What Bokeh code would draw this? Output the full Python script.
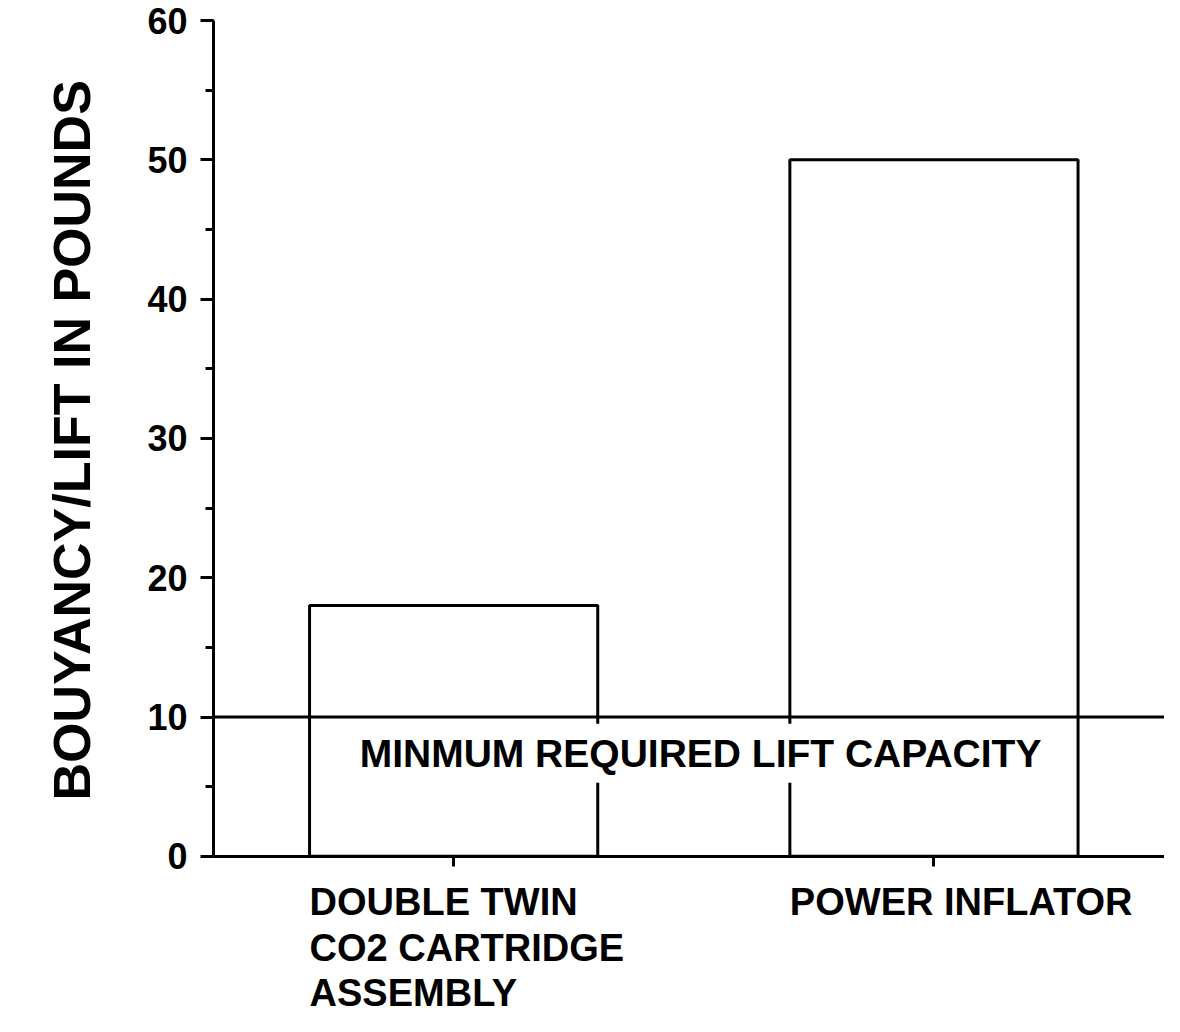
from bokeh.plotting import figure
from bokeh.models import (Range1d, FixedTicker, SingleIntervalTicker, Span, Label, Title)
from bokeh.embed import file_html
from bokeh.resources import INLINE

# ---- data ----
categories = ["DOUBLE TWIN\nCO2 CARTRIDGE\nASSEMBLY", "POWER INFLATOR"]
positions = [0.5, 1.5]
lift_values = [18, 50]
min_required = 10
min_label = "MINMUM REQUIRED LIFT CAPACITY"
y_label = "BOUYANCY/LIFT IN POUNDS"
y_bounds = (0, 60)

BAR_W = 0.6
FONT = "Liberation Sans"

p = figure(width=1164, height=1016, output_backend="svg", toolbar_location=None,
           x_range=Range1d(0, 1.98), y_range=Range1d(-11.5, 60),
           min_border_left=213, min_border_top=20, min_border_right=0,
           min_border_bottom=0, x_axis_location="above")
p.outline_line_color = None
p.xgrid.visible = False
p.ygrid.visible = False
p.background_fill_color = "white"
p.border_fill_color = "white"

p.vbar(x=positions, top=lift_values, width=BAR_W, bottom=0,
       fill_color="white", line_color="black", line_width=3)

p.add_layout(Span(location=min_required, dimension="width",
                  line_color="black", line_width=3))
p.add_layout(Label(x=1.014, y=7.4, text=min_label, text_align="center",
                   text_baseline="middle", text_font=FONT, text_font_style="bold",
                   text_font_size="39px", text_color="black",
                   background_fill_color="white", padding=8))

# y axis (line and ticks limited to 0..60)
ya = p.yaxis[0]
ya.bounds = y_bounds
ya.ticker = SingleIntervalTicker(interval=10, num_minor_ticks=2)
ya.axis_line_width = 3
ya.major_tick_line_width = 3
ya.minor_tick_line_width = 3
ya.major_tick_out = 13
ya.major_tick_in = 0
ya.minor_tick_out = 8
ya.minor_tick_in = 0
ya.major_label_text_font = FONT
ya.major_label_text_font_style = "bold"
ya.major_label_text_font_size = "36px"
ya.major_label_text_color = "black"
ya.major_label_standoff = 13

# y axis title, placed along the 0..60 part of the axis
p.add_layout(Title(text=y_label, align="left", offset=216, standoff=84,
                   vertical_align="top",
                   text_font=FONT, text_font_style="bold", text_font_size="52px",
                   text_color="black"), "left")

# x axis drawn at y = 0 with ticks at the bar centres pointing down
xa = p.xaxis[0]
xa.fixed_location = 0
xa.ticker = FixedTicker(ticks=positions)
xa.minor_tick_line_color = None
xa.axis_line_width = 3
xa.major_tick_line_width = 3
xa.major_tick_out = 0
xa.major_tick_in = 10
xa.major_label_overrides = {pos: "" for pos in positions}
xa.major_label_standoff = 0
xa.major_label_text_font_size = "1px"

# category labels, left-aligned at the bar left edges, below the axis
for pos, cat in zip(positions, categories):
    p.add_layout(Label(x=pos - BAR_W / 2, y=-1.8, text=cat, text_align="left",
                       text_baseline="top", text_font=FONT, text_font_style="bold",
                       text_font_size="38px", text_color="black",
                       text_line_height=1.08))

open("out.html", "w").write(file_html(p, INLINE))
